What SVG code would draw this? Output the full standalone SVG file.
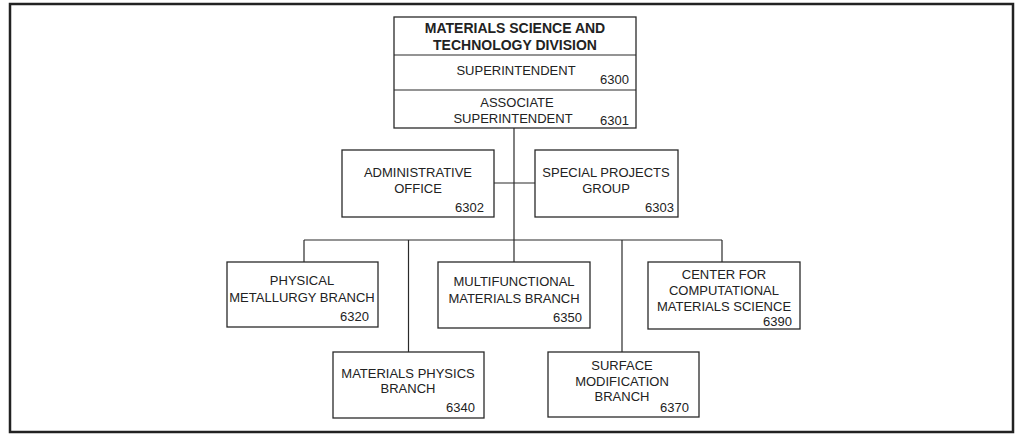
<svg xmlns="http://www.w3.org/2000/svg" width="1016" height="435" viewBox="0 0 1016 435">
<style>
.box{fill:#fff;stroke:#2a2a2a;stroke-width:1.3}
.ln{fill:none;stroke:#2a2a2a;stroke-width:1.2}
text{font-family:"Liberation Sans",Arial,sans-serif;font-size:13px;fill:#222}
.c{text-anchor:middle}
.r{text-anchor:end}
.b{font-weight:bold;font-size:14px}
</style>
<rect x="0" y="0" width="1016" height="435" fill="#fff"/>
<rect x="10" y="4" width="1003" height="428" fill="none" stroke="#222" stroke-width="2.5"/>
<g id="connectors">
<path class="ln" d="M514,128 V262"/>
<path class="ln" d="M494,183 H535"/>
<path class="ln" d="M304,240 H722"/>
<path class="ln" d="M304,240 V262"/>
<path class="ln" d="M408.5,240 V352"/>
<path class="ln" d="M622,240 V352"/>
<path class="ln" d="M722,240 V262"/>
</g>
<g id="division">
<rect class="box" x="394" y="17" width="242" height="111"/>
<path class="ln" d="M394,55 H636 M394,90 H636"/>
<text class="c b" x="515" y="33">MATERIALS SCIENCE AND</text>
<text class="c b" x="515" y="50">TECHNOLOGY DIVISION</text>
<text class="c" x="516" y="75">SUPERINTENDENT</text>
<text class="r" x="629" y="84">6300</text>
<text class="c" x="517" y="107">ASSOCIATE</text>
<text class="c" x="513" y="123">SUPERINTENDENT</text>
<text class="r" x="629" y="125">6301</text>
</g>
<g id="admin">
<rect class="box" x="342" y="150" width="152" height="67"/>
<text class="c" x="418" y="177">ADMINISTRATIVE</text>
<text class="c" x="418" y="193">OFFICE</text>
<text class="r" x="484" y="212">6302</text>
</g>
<g id="special">
<rect class="box" x="535" y="150" width="143" height="67"/>
<text class="c" x="606" y="177">SPECIAL PROJECTS</text>
<text class="c" x="606" y="193">GROUP</text>
<text class="r" x="674" y="212">6303</text>
</g>
<g id="physical">
<rect class="box" x="227" y="262" width="151" height="65"/>
<text class="c" x="302" y="285">PHYSICAL</text>
<text class="c" x="302" y="302">METALLURGY BRANCH</text>
<text class="r" x="369" y="321">6320</text>
</g>
<g id="matphys">
<rect class="box" x="333" y="352" width="151" height="66"/>
<text class="c" x="408" y="378">MATERIALS PHYSICS</text>
<text class="c" x="408" y="393">BRANCH</text>
<text class="r" x="475" y="412">6340</text>
</g>
<g id="multi">
<rect class="box" x="438" y="262" width="152" height="66"/>
<text class="c" x="514" y="286">MULTIFUNCTIONAL</text>
<text class="c" x="514" y="303">MATERIALS BRANCH</text>
<text class="r" x="582" y="322">6350</text>
</g>
<g id="surface">
<rect class="box" x="548" y="352" width="151" height="65"/>
<text class="c" x="622" y="370">SURFACE</text>
<text class="c" x="622" y="386">MODIFICATION</text>
<text class="c" x="622" y="401">BRANCH</text>
<text class="r" x="689" y="412">6370</text>
</g>
<g id="center">
<rect class="box" x="648" y="262" width="152" height="67"/>
<text class="c" x="724" y="279">CENTER FOR</text>
<text class="c" x="724" y="295">COMPUTATIONAL</text>
<text class="c" x="724" y="311">MATERIALS SCIENCE</text>
<text class="r" x="792" y="326">6390</text>
</g>
</svg>
